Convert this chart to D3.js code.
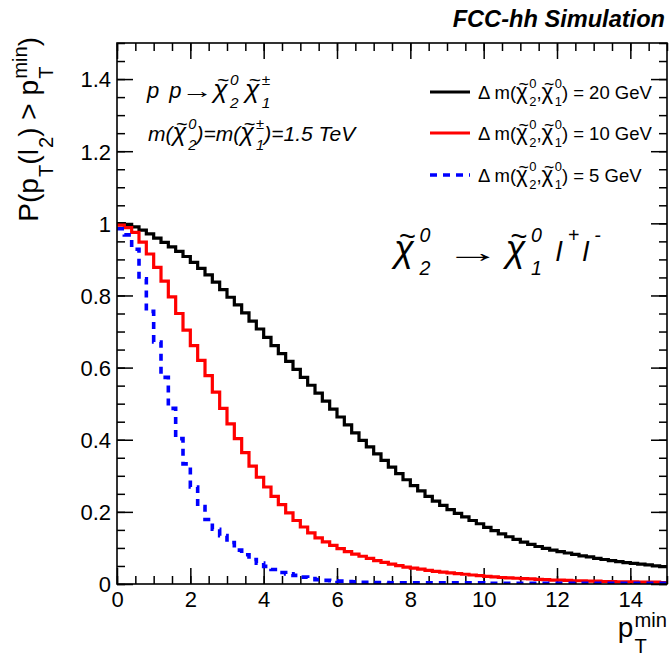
<!DOCTYPE html>
<html>
<head>
<meta charset="utf-8">
<script src="https://cdn.jsdelivr.net/npm/d3@7"></script>
<style>
  html, body { margin: 0; padding: 0; background: #fff; }
  svg { display: block; }
</style>
</head>
<body>
<svg id="chart" width="669" height="656"></svg>
<script>
// Binning of the pT threshold scan (GeV)
const ptRange = [0, 15];
const nBins = 75;

// P(pT(l2) > pT_min) per bin, for the three mass splittings
const prob20 = [
  0.999, 0.997, 0.990, 0.981, 0.971, 0.959, 0.947, 0.935, 0.922, 0.908,
  0.892, 0.875, 0.857, 0.837, 0.816, 0.795, 0.774, 0.752, 0.729, 0.707,
  0.684, 0.661, 0.639, 0.617, 0.595, 0.573, 0.551, 0.529, 0.507, 0.485,
  0.463, 0.441, 0.419, 0.398, 0.380, 0.361, 0.343, 0.324, 0.306, 0.289,
  0.273, 0.258, 0.243, 0.230, 0.218, 0.206, 0.196, 0.186, 0.176, 0.167,
  0.157, 0.148, 0.139, 0.131, 0.124, 0.116, 0.110, 0.104, 0.099, 0.094,
  0.090, 0.086, 0.082, 0.078, 0.075, 0.071, 0.068, 0.065, 0.062, 0.059,
  0.057, 0.055, 0.053, 0.050, 0.048
];
const prob10 = [
  0.995, 0.988, 0.975, 0.948, 0.915, 0.878, 0.840, 0.796, 0.750, 0.704,
  0.661, 0.620, 0.578, 0.532, 0.487, 0.444, 0.403, 0.364, 0.327, 0.296,
  0.269, 0.243, 0.220, 0.197, 0.176, 0.158, 0.142, 0.128, 0.117, 0.107,
  0.098, 0.090, 0.083, 0.077, 0.071, 0.065, 0.060, 0.055, 0.051, 0.047,
  0.044, 0.041, 0.038, 0.035, 0.033, 0.031, 0.029, 0.027, 0.025, 0.023,
  0.021, 0.020, 0.018, 0.017, 0.016, 0.015, 0.014, 0.013, 0.012, 0.011,
  0.011, 0.010, 0.009, 0.009, 0.008, 0.008, 0.007, 0.007, 0.006, 0.006,
  0.006, 0.005, 0.005, 0.005, 0.004
];
const prob5 = [
  0.985, 0.968, 0.928, 0.846, 0.756, 0.671, 0.573, 0.487, 0.403, 0.333,
  0.269, 0.215, 0.179, 0.152, 0.134, 0.115, 0.094, 0.081, 0.068, 0.058,
  0.049, 0.040, 0.032, 0.028, 0.024, 0.019, 0.015, 0.012, 0.010, 0.009,
  0.008, 0.007, 0.006, 0.005, 0.005, 0.004, 0.004, 0.003, 0.003, 0.003,
  0.003, 0.003, 0.003, 0.003, 0.003, 0.003, 0.003, 0.003, 0.003, 0.003,
  0.002, 0.002, 0.002, 0.002, 0.002, 0.002, 0.002, 0.002, 0.002, 0.002,
  0.002, 0.002, 0.002, 0.002, 0.002, 0.002, 0.002, 0.002, 0.002, 0.002,
  0.002, 0.002, 0.002, 0.002, 0.002
];
const massSplittings = ["20 GeV", "10 GeV", "5 GeV"];

// Axis ticks
const yDomain = [0, 1.5];
const xTickValues = [0, 2, 4, 6, 8, 10, 12, 14];
const xMinorStep = 0.5;
const yTickValues = [0, 0.2, 0.4, 0.6, 0.8, 1, 1.2, 1.4];
const yTickLabels = ["0", "0.2", "0.4", "0.6", "0.8", "1", "1.2", "1.4"];
const yMinorStep = 0.05;

const FONT = "'Liberation Sans', Arial, Helvetica, sans-serif";
const svg = d3.select("#chart");

const frame = { left: 117, right: 667, top: 43, bottom: 584 };
const x = d3.scaleLinear().domain(ptRange).range([frame.left, frame.right]);
const y = d3.scaleLinear().domain(yDomain).range([frame.bottom, frame.top]);

// ---------- axes (ticks pointing into the frame on all four sides)
const xMinor = d3.range(ptRange[0], ptRange[1] + 1e-9, xMinorStep);
const yMinor = d3.range(yDomain[0], yDomain[1] + 1e-9, yMinorStep);
const MAJ = 16, MIN = 8;

function tickAxis(axisFn, scale, values, size, pos, fmt) {
  const a = axisFn(scale).tickValues(values).tickSize(-size).tickSizeOuter(0);
  a.tickFormat(fmt || (() => ""));
  const g = svg.append("g").attr("transform", pos).call(a);
  g.select(".domain").remove();
  g.selectAll(".tick line").attr("stroke", "#000").attr("stroke-width", 1.5);
  return g;
}

const gxB = tickAxis(d3.axisBottom, x, xTickValues, MAJ, `translate(0,${frame.bottom})`, d3.format("d"));
tickAxis(d3.axisBottom, x, xMinor, MIN, `translate(0,${frame.bottom})`);
tickAxis(d3.axisTop, x, xTickValues, MAJ, `translate(0,${frame.top})`);
tickAxis(d3.axisTop, x, xMinor, MIN, `translate(0,${frame.top})`);
const gyL = tickAxis(d3.axisLeft, y, yTickValues, MAJ, `translate(${frame.left},0)`,
  (d, i) => yTickLabels[i]);
tickAxis(d3.axisLeft, y, yMinor, MIN, `translate(${frame.left},0)`);
tickAxis(d3.axisRight, y, yTickValues, MAJ, `translate(${frame.right},0)`);
tickAxis(d3.axisRight, y, yMinor, MIN, `translate(${frame.right},0)`);

gxB.selectAll(".tick text")
  .attr("font-family", FONT).attr("font-size", 22).attr("fill", "#000")
  .attr("y", 23).attr("dy", 0);
gyL.selectAll(".tick text")
  .attr("font-family", FONT).attr("font-size", 22).attr("fill", "#000")
  .attr("x", -6).attr("dy", "0.36em");

// ---------- histograms
const edges = d3.range(nBins + 1).map(i => ptRange[0] + i * (ptRange[1] - ptRange[0]) / nBins);
const stepLine = d3.line().x(d => x(d[0])).y(d => y(d[1])).curve(d3.curveStepAfter);
function histPoints(vals) {
  const pts = vals.map((v, i) => [edges[i], v]);
  pts.push([edges[nBins], vals[nBins - 1]]);
  return pts;
}
const series = [
  { vals: prob20, color: "#000000", width: 3.2, dash: null },
  { vals: prob10, color: "#ff0000", width: 3.2, dash: null },
  { vals: prob5,  color: "#0000ff", width: 3.6, dash: "7,6" }
];
svg.append("clipPath").attr("id", "frameClip").append("rect")
  .attr("x", frame.left).attr("y", frame.top)
  .attr("width", frame.right - frame.left).attr("height", frame.bottom - frame.top);
const gh = svg.append("g").attr("clip-path", "url(#frameClip)");
series.forEach(s => {
  gh.append("path").attr("d", stepLine(histPoints(s.vals)))
    .attr("fill", "none").attr("stroke", s.color).attr("stroke-width", s.width)
    .attr("stroke-linejoin", "miter").attr("stroke-dasharray", s.dash);
});

// frame
svg.append("rect")
  .attr("x", frame.left).attr("y", frame.top)
  .attr("width", frame.right - frame.left).attr("height", frame.bottom - frame.top)
  .attr("fill", "none").attr("stroke", "#000").attr("stroke-width", 1.6);

// ---------- TLatex-like text: sub/superscripts, tilded chi, arrows, gaps
function rich(parent, px, py, parts, o) {
  const g = parent.append("g");
  const base = o.size;
  const ss = base * (o.scriptScale || 0.7);
  let cx = 0;
  function put(str, size, tx, ty, anchor, italic) {
    const t = g.append("text").attr("x", tx).attr("y", ty)
      .attr("font-size", size).attr("font-family", FONT)
      .attr("font-style", (italic === undefined ? o.italic : italic) ? "italic" : "normal")
      .attr("font-weight", o.bold ? "bold" : "normal")
      .attr("fill", "#000").attr("text-anchor", anchor || "start").text(str);
    return t;
  }
  const len = t => t.node().getComputedTextLength();
  for (const p of parts) {
    if (typeof p === "string") { cx += len(put(p, base, cx, 0)); continue; }
    if (p.gap) { cx += p.gap * base; continue; }
    if (p.arrow) {
      // thin arrow, stretched horizontally
      const t = put("\u2192", base, 0, 0, "start", false);
      const w = len(t) * p.arrow;
      t.attr("transform", `translate(${cx},${base * (p.dy || 0)}) scale(${p.arrow},1)`);
      cx += w;
      continue;
    }
    if (p.chi) {
      const cs = base * (o.chiScale || 1.2);
      const w = len(put("\u03C7", cs, cx, 0));
      put("~", cs * 0.8, cx + w * 0.55 + cs * 0.06, -cs * 0.40, "middle");
      cx += w;
    }
    if (p.sup !== undefined || p.sub !== undefined) {
      const dx = (o.scriptGap || 0.04) * base;
      let w = 0;
      if (p.sup !== undefined) w = Math.max(w, len(put(p.sup, ss, cx + dx, -base * o.supShift)));
      if (p.sub !== undefined) w = Math.max(w, len(put(p.sub, ss, cx + dx, base * o.subShift)));
      cx += w + dx;
    }
  }
  const off = o.anchor === "end" ? -cx : o.anchor === "middle" ? -cx / 2 : 0;
  g.attr("transform", `translate(${px},${py}) rotate(${o.rotate || 0}) translate(${off},0)`);
  return g;
}

// header
rich(svg, 665, 27, ["FCC-hh Simulation"], { size: 23.6, italic: true, bold: true, anchor: "end" });

// axis titles
rich(svg, 38, 37,
  ["P(p", { sub: "T" }, "(l", { sub: "2" }, ") > p", { sup: "min", sub: "T" }, ")"],
  { size: 28, scriptScale: 0.72, supShift: 0.4, subShift: 0.55, rotate: -90, anchor: "end" });
rich(svg, 667, 637, ["p", { sup: "min", sub: "T" }],
  { size: 28, scriptScale: 0.72, supShift: 0.36, subShift: 0.57, anchor: "end" });

// process labels
rich(svg, 147, 98,
  ["p", { gap: 0.45 }, "p", { arrow: 1.45 },
   { chi: 1 }, { sup: "0", sub: "2" }, { gap: 0.3 }, { chi: 1 }, { sup: "\u00B1", sub: "1" }],
  { size: 22, italic: true, supShift: 0.6, subShift: 0.45, scriptGap: 0.1 });
rich(svg, 148, 141,
  ["m(", { chi: 1 }, { sup: "0", sub: "2" }, ")=m(", { chi: 1 }, { sup: "\u00B1", sub: "1" }, ")=1.5 TeV"],
  { size: 21, italic: true, supShift: 0.58, subShift: 0.45, scriptGap: 0.1 });
rich(svg, 394, 261,
  [{ chi: 1 }, { sup: "0", sub: "2" }, { gap: 0.5 }, { arrow: 2.0, dy: 0.02 }, { gap: 0.18 },
   { chi: 1 }, { sup: "0", sub: "1" }, { gap: 0.5 }, "l", { sup: "+" }, { gap: 0.12 }, "l", { sup: "-" }],
  { size: 28, italic: true, supShift: 0.68, subShift: 0.5, scriptGap: 0.2, chiScale: 1.3 });

// ---------- legend
const legendY = [92, 133, 175];
series.forEach((s, i) => {
  svg.append("line")
    .attr("x1", 430).attr("x2", 470).attr("y1", legendY[i]).attr("y2", legendY[i])
    .attr("stroke", s.color).attr("stroke-width", s.width).attr("stroke-dasharray", s.dash);
  rich(svg, 478, legendY[i] + 6.5,
    ["\u0394 m(", { chi: 1 }, { sup: "0", sub: "2" }, ",", { chi: 1 }, { sup: "0", sub: "1" }, ") = " + massSplittings[i]],
    { size: 18.5, supShift: 0.55, subShift: 0.4, scriptGap: 0.08 });
});
</script>
</body>
</html>
